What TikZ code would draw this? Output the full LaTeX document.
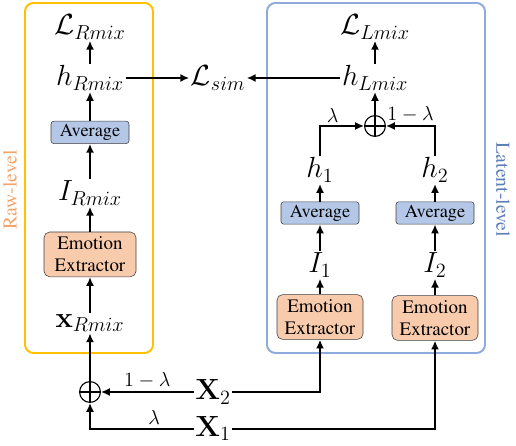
\documentclass[tikz,border=0pt]{standalone}
\usepackage{amsmath,amssymb}
\usepackage[T1]{fontenc}
\renewcommand{\rmdefault}{ptm}
\usepackage{tikz}
\usetikzlibrary{arrows.meta,positioning,calc}
\definecolor{rawgold}{HTML}{FFC000}
\definecolor{rawtext}{HTML}{F4A46A}
\definecolor{latentblue}{HTML}{8FAADC}
\definecolor{latenttext}{HTML}{5B7DB8}
\definecolor{avgfill}{HTML}{B4C7E7}
\definecolor{extfill}{HTML}{F8CBAD}
\definecolor{boxline}{HTML}{404040}

\begin{document}
\begin{tikzpicture}[
    avgbox/.style={draw=boxline,rounded corners=2pt,fill=avgfill,minimum width=1.95cm,minimum height=0.56cm,inner sep=1pt,font=\fontsize{13}{14}\selectfont},
    extbox/.style={draw=boxline,rounded corners=4pt,fill=extfill,minimum width=2.15cm,minimum height=1.12cm,align=center,inner sep=1pt,font=\fontsize{13.5}{15.5}\selectfont},
    var/.style={inner sep=1pt,font=\huge},
    sum/.style={draw,circle,minimum size=0.52cm,inner sep=0pt,line width=0.8pt},
    arr/.style={-{Latex[length=2.2mm,width=2mm]},line width=1.4pt},
    lam/.style={font=\Large,inner sep=2pt}
  ]
    \useasboundingbox (0,0) rectangle (12.9,11.15);
    % level frames
    \draw[rawgold,line width=1.4pt,rounded corners=6pt] (0.625,2.325) rectangle (3.825,11.075);
    \draw[latentblue,line width=1.4pt,rounded corners=6pt] (6.675,2.325) rectangle (12.125,11.075);
    \node[rotate=90,text=rawtext,font=\fontsize{14}{16}\selectfont] (rawlbl) at (0.25,6.4) {Raw-level};
    \node[rotate=-90,text=latenttext,font=\fontsize{14}{16}\selectfont] (latlbl) at (12.575,6.4) {Latent-level};
    % raw-level branch
    \node[var] (lossr) at (2.25,10.475) {$\mathcal{L}_{Rmix}$};
    \node[var] (hr) at (2.25,9.2) {$h_{Rmix}$};
    \node[avgbox] (avgr) at (2.25,7.84) {Average};
    \node[var] (ir) at (2.25,6.325) {$I_{Rmix}$};
    \node[extbox,minimum width=2.3cm] (extr) at (2.25,4.79) {Emotion\\Extractor};
    \node[var] (xr) at (2.25,3.075) {$\mathbf{x}_{Rmix}$};
    \node[sum] (sumr) at (2.25,1.35) {};
    % similarity loss
    \node[var] (lsim) at (5.45,9.2) {$\mathcal{L}_{sim}$};
    % latent-level branch
    \node[var] (lossl) at (9.375,10.475) {$\mathcal{L}_{Lmix}$};
    \node[var] (hl) at (9.375,9.2) {$h_{Lmix}$};
    \node[sum] (suml) at (9.375,8.0) {};
    \node[var] (h1) at (8.0,6.9) {$h_1$};
    \node[var] (h2) at (10.875,6.9) {$h_2$};
    \node[avgbox] (avg1) at (8.0,5.825) {Average};
    \node[avgbox] (avg2) at (10.875,5.825) {Average};
    \node[var] (i1) at (8.0,4.525) {$I_1$};
    \node[var] (i2) at (10.875,4.525) {$I_2$};
    \node[extbox] (ext1) at (8.0,3.225) {Emotion\\Extractor};
    \node[extbox] (ext2) at (10.875,3.2) {Emotion\\Extractor};
    % inputs
    \node[var] (x2) at (5.325,1.35) {$\mathbf{X}_2$};
    \node[var] (x1) at (5.325,0.43) {$\mathbf{X}_1$};
    % plus signs
    \draw[line width=1.4pt] (sumr.north) -- (sumr.south) (sumr.west) -- (sumr.east);
    \draw[line width=1.4pt] (suml.north) -- (suml.south) (suml.west) -- (suml.east);
    % raw-level flow
    \draw[arr] (x2) -- node[lam,above]{$1-\lambda$} (sumr);
    \draw[arr] (x1) -| node[lam,above,pos=0.19]{$\lambda$} (sumr);
    \draw[arr] (sumr) -- (xr);
    \draw[arr] (xr) -- (extr);
    \draw[arr] (extr) -- (ir);
    \draw[arr] (ir) -- (avgr);
    \draw[arr] (avgr) -- (hr);
    \draw[arr] (hr) -- (lossr);
    \draw[arr] (hr) -- (lsim);
    % latent-level flow
    \draw[arr] (x2) -| (ext1);
    \draw[arr] (x1) -| (ext2);
    \draw[arr] (ext1) -- (i1);
    \draw[arr] (ext2) -- (i2);
    \draw[arr] (i1) -- (avg1);
    \draw[arr] (i2) -- (avg2);
    \draw[arr] (avg1) -- (h1);
    \draw[arr] (avg2) -- (h2);
    \draw[arr] (h1) |- node[lam,above,pos=0.645]{$\lambda$} (suml);
    \draw[arr] (h2) |- node[lam,above,pos=0.75]{$1-\lambda$} (suml);
    \draw[arr] (suml) -- (hl);
    \draw[arr] (hl) -- (lossl);
    \draw[arr] (hl) -- (lsim);
  \end{tikzpicture}
\end{document}
